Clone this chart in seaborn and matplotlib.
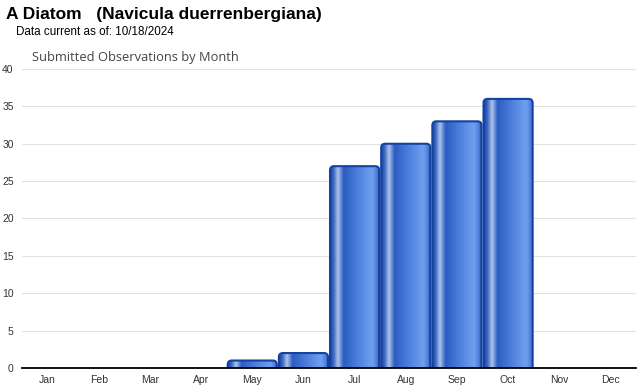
import numpy as np
import pandas as pd
import matplotlib
matplotlib.use("Agg")
import matplotlib.pyplot as plt
import seaborn as sns
from matplotlib.patches import FancyBboxPatch
from matplotlib.colors import LinearSegmentedColormap

months = ["Jan", "Feb", "Mar", "Apr", "May", "Jun", "Jul", "Aug", "Sep", "Oct", "Nov", "Dec"]
observations = [0, 0, 0, 0, 1, 2, 27, 30, 33, 36, 0, 0]
y_ticks = [0, 5, 10, 15, 20, 25, 30, 35, 40]

df = pd.DataFrame({"month": months, "count": observations})

sns.set_style("white")
plt.rcParams["font.family"] = ["Liberation Sans", "DejaVu Sans"]

fig = plt.figure(figsize=(6.4, 3.9), dpi=100)
ax = fig.add_axes([22/640, 1-368/390, 614/640, 299/390])

sns.barplot(data=df, x="month", y="count", ax=ax, width=0.96, color="#3366cc",
            edgecolor="none", zorder=2)

ax.set_ylim(0, 40)
ax.set_xlim(-0.5, 11.5)
ax.set_yticks(y_ticks)
ax.yaxis.grid(True, color="#e2e2e2", lw=0.8, zorder=0)
ax.set_axisbelow(True)
for s in ["top", "right", "left"]:
    ax.spines[s].set_visible(False)
ax.spines["bottom"].set_color("#000000")
ax.spines["bottom"].set_linewidth(1.3)
ax.spines["bottom"].set_zorder(5)
ax.tick_params(axis="both", length=0, labelsize=7.5, colors="#333333")
ax.tick_params(axis="x", pad=5)
ax.tick_params(axis="y", pad=6)
ax.set_xlabel("")
ax.set_ylabel("")

cmap = LinearSegmentedColormap.from_list("cyl", [
    (0.0, "#1a43a0"), (0.07, "#3a66c0"), (0.16, "#b0c6ea"), (0.27, "#2c5cc2"),
    (0.55, "#4c7fdc"), (0.85, "#70a0f0"), (0.95, "#4a7ad6"), (1.0, "#1a45a5")])
grad = np.linspace(0, 1, 256).reshape(1, -1)

px_x = 12 / 614
px_y = 40 / 299
asp = px_y / px_x
for p in list(ax.patches):
    x0, w, h = p.get_x(), p.get_width(), p.get_height()
    if h <= 0:
        continue
    p.set_visible(False)
    r = 4 * px_x
    ry = r * asp
    box = dict(boxstyle=f"round,pad={r}", mutation_aspect=asp)
    fb = FancyBboxPatch((x0 + r, 0), w - 2 * r, h - ry, facecolor="none",
                        edgecolor="#1342a2", lw=1.5, zorder=4, **box)
    ax.add_patch(fb)
    clip = FancyBboxPatch((x0 + r, 0), w - 2 * r, h - ry, facecolor="none",
                          edgecolor="none", transform=ax.transData, **box)
    ax.add_patch(clip)
    im = ax.imshow(grad, cmap=cmap, extent=[x0, x0 + w, 0, h], aspect="auto",
                   interpolation="bicubic", zorder=3)
    im.set_clip_path(clip)
ax.set_xlim(-0.5, 11.5)
ax.set_ylim(0, 40)

fig.text(6/640, 1-15/390, "A Diatom   (Navicula duerrenbergiana)", fontsize=12.5,
         fontweight="bold", ha="left", va="center", color="#000000")
fig.text(16/640, 1-32/390, "Data current as of: 10/18/2024", fontsize=8.4,
         ha="left", va="center", color="#000000")
fig.text(32/640, 1-58/390, "Submitted Observations by Month", fontsize=9.3,
         ha="left", va="center", color="#444444", family=["Open Sans", "DejaVu Sans"])

fig.savefig("out.png", dpi=100)
